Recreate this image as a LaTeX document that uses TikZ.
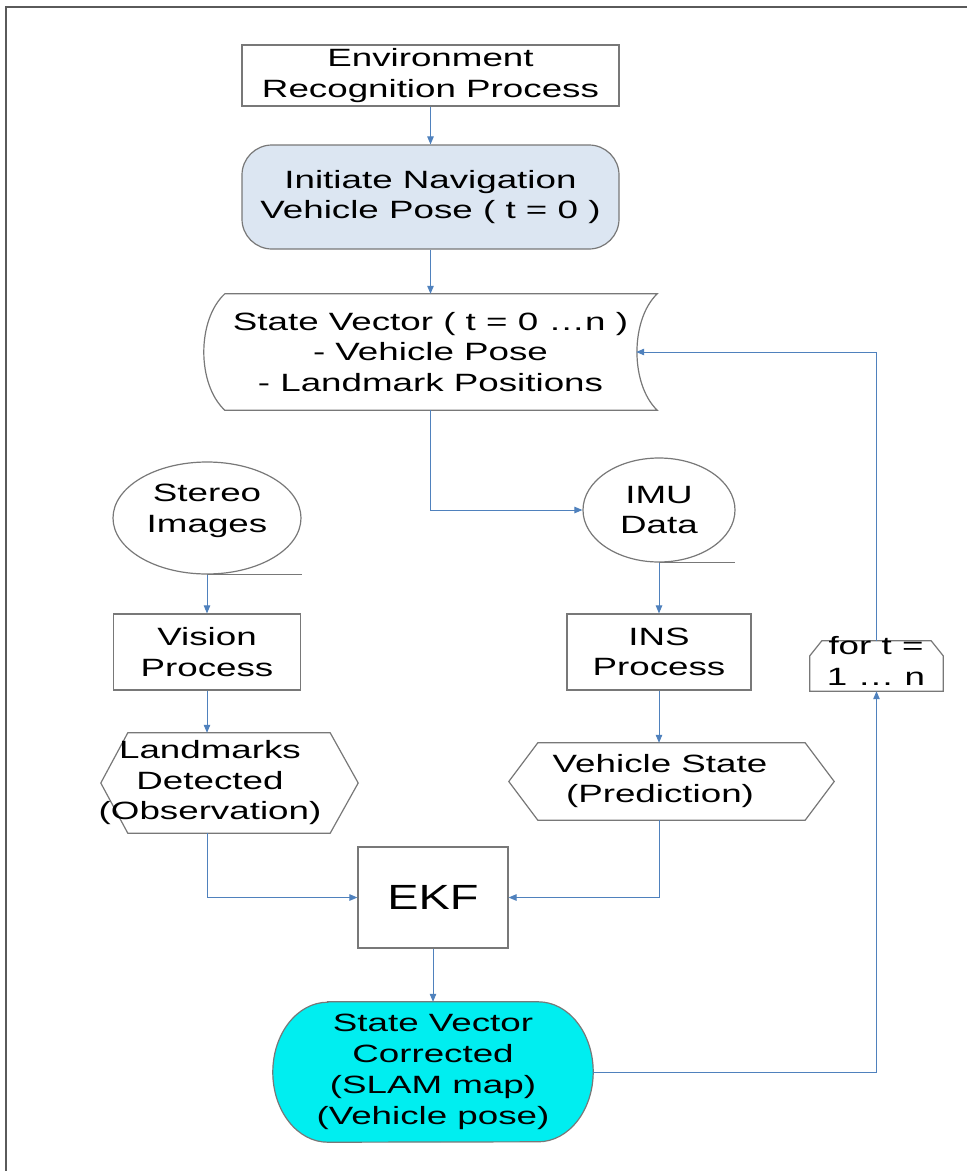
\documentclass[tikz,border=0pt]{standalone}
\usepackage{fontspec}
\setmainfont{Liberation Sans}[FakeStretch=1.47]
\newfontfamily\ekffont{Liberation Sans}[FakeStretch=1.34]
\usetikzlibrary{shapes.geometric,arrows.meta,calc}
\definecolor{conncol}{RGB}{79,129,189}
\definecolor{edgecol}{RGB}{120,120,120}
\definecolor{initfill}{RGB}{220,230,242}
\definecolor{svcfill}{RGB}{0,238,240}
\definecolor{framecol}{RGB}{90,90,90}
\begin{document}
\begin{tikzpicture}[x=1pt,y=-1pt,
  every node/.style={font=\fontsize{25}{30.5}\selectfont, inner sep=0pt, align=center},
  outline/.style={draw=edgecol, line width=1.2pt},
  boxnode/.style={outline, rectangle},
  area/.style={rectangle, inner sep=0pt},
  conn/.style={draw=conncol, line width=1pt, -{Triangle[length=8pt,width=6.5pt]}}]
\useasboundingbox (0,0) rectangle (967,1171);
\fill[white] (0,0) rectangle (967,1171);
\draw[framecol, line width=1.5pt] (967,7) -- (6,7) -- (6,1171);

% top boxes
\node[boxnode, minimum width=377pt, minimum height=61pt] (env) at (430.5,75.5) {Environment\\Recognition Process};
\node[boxnode, rounded corners=30pt, fill=initfill, minimum width=377pt, minimum height=104pt] (init) at (430.5,197) {Initiate Navigation\\Vehicle Pose ( t = 0 )};

% state vector (stored data)
\node[area, minimum width=453pt, minimum height=116pt] (sv) at (430.5,352) {State Vector ( t = 0 …n )\\- Vehicle Pose\\- Landmark Positions};
\draw[outline] ($(sv.north west)+(21,0)$) -- (sv.north east)
  .. controls +(-27,26) and +(-27,-26) .. (sv.south east)
  -- ($(sv.south west)+(21,0)$)
  .. controls +(-28,-26) and +(-28,26) .. ($(sv.north west)+(21,0)$) -- cycle;
\coordinate (svin) at ($(sv.east)+(-21,0)$);

% stereo images (tape)
\node[ellipse, outline, minimum width=188pt, minimum height=112pt] (stereo) at (207,518) {};
\node (stereotxt) at (207,511) {Stereo\\Images};
\draw[outline] (stereo.south) -- ++(95,0);

% IMU data (tape)
\node[ellipse, outline, minimum width=152pt, minimum height=104pt] (imu) at (659,510) {IMU\\Data};
\draw[outline] (imu.south) -- ++(76,0);

% process boxes
\node[boxnode, minimum width=187pt, minimum height=76pt] (vision) at (207,652) {Vision\\Process};
\node[boxnode, minimum width=184pt, minimum height=76pt] (ins) at (659,652) {INS\\Process};

% hexagons
\node[area, minimum width=257pt, minimum height=100pt] (landH) at (229.5,783) {};
\draw[outline] (landH.west) -- ($(landH.north west)+(27,0)$) -- ($(landH.north east)+(-28,0)$)
  -- (landH.east) -- ($(landH.south east)+(-28,0)$) -- ($(landH.south west)+(27,0)$) -- cycle;
\node (landtxt) at (210,783) {Landmarks\\Detected\\(Observation)};

\node[area, minimum width=325pt, minimum height=77pt] (vehH) at (671.5,781.5) {};
\draw[outline] (vehH.west) -- ($(vehH.north west)+(29,0)$) -- ($(vehH.north east)+(-29,0)$)
  -- (vehH.east) -- ($(vehH.south east)+(-29,0)$) -- ($(vehH.south west)+(29,0)$) -- cycle;
\node (vehtxt) at (660,781) {Vehicle State\\(Prediction)};

% EKF
\node[boxnode, minimum width=150pt, minimum height=101pt, font={\ekffont\fontsize{35}{40}\selectfont}] (ekf) at (433,897.5) {EKF};

% state vector corrected (terminator)
\node[area, minimum width=320pt, minimum height=140pt] (svc) at (433,1072) {};
\draw[outline, fill=svcfill] ($(svc.north west)+(55,0)$) -- ($(svc.north east)+(-55,0)$)
  arc[start angle=-90, end angle=90, x radius=55, y radius=70]
  -- ($(svc.south west)+(55,0)$)
  arc[start angle=90, end angle=270, x radius=55, y radius=70] -- cycle;
\node[font=\fontsize{25}{31}\selectfont] (svctxt) at (svc.center) {State Vector\\Corrected\\(SLAM map)\\(Vehicle pose)};

% loop limit
\node[area, minimum width=133pt, minimum height=50pt] (fort) at (876.5,666) {};
\draw[outline] (fort.south west) -- ($(fort.north west)+(0,15)$) -- ($(fort.north west)+(12,0)$)
  -- ($(fort.north east)+(-12,0)$) -- ($(fort.north east)+(0,15)$) -- (fort.south east) -- cycle;
\node (forttxt) at (876,661) {for t =\\1 … n};

% connectors
\draw[conn] (env.south) -- (init.north);
\draw[conn] (init.south) -- (sv.north);
\draw[conn] (sv.south) |- (imu.west);
\draw[conn] (stereo.south) -- (vision.north);
\draw[conn] (imu.south) -- (ins.north);
\draw[conn] (vision.south) -- (vision.south |- landH.north);
\draw[conn] (ins.south) -- (ins.south |- vehH.north);
\draw[conn] (vision.south |- landH.south) |- (ekf.west);
\draw[conn] (ins.south |- vehH.south) |- (ekf.east);
\draw[conn] (ekf.south) -- (svc.north);
\draw[conn] (svc.east) -| (fort.south);
\draw[conn] (fort.north) |- (svin);
\end{tikzpicture}
\end{document}
